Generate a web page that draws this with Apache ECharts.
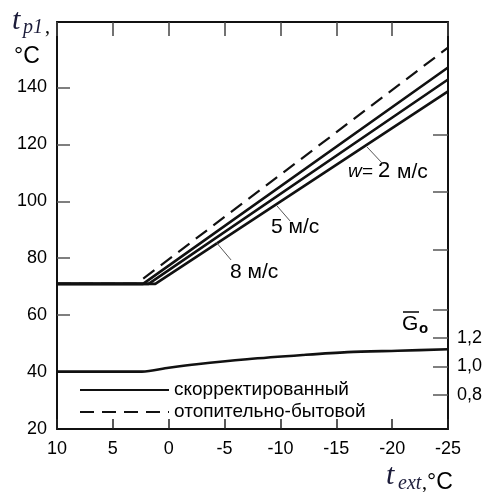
<!DOCTYPE html>
<html><head><meta charset="utf-8">
<script src="https://cdn.jsdelivr.net/npm/echarts@6/dist/echarts.min.js"></script>
<style>html,body{margin:0;padding:0;background:#fff}#c{width:490px;height:492px}</style>
</head><body><div id="c"></div>
<script>
// ---- data ----
const xTickValues = [-25, -20, -15, -10, -5, 0, 5, 10];
const yTickLabels = [20, 40, 60, 80, 100, 120, 140];
const goTickLabels = [0.8, 1.0, 1.2];
const goTickMarks = [0.8, 1.0, 1.2, 1.4, 1.82, 2.23, 2.63];
// t_p1 lines: [t_ext, t_p1]
const line_w2 = [[10, 71], [1.2, 71], [-25, 138.6]];
const line_w5 = [[10, 71], [1.8, 71], [-25, 142.8]];
const line_w8 = [[10, 71], [2.3, 71], [-25, 147]];
const line_heating = [[10, 71], [2.9, 71], [-25, 154]];
// relative flow G_o
const go_x = [10, 2.4, 0, -2.5, -7, -12, -16, -20.5, -25];
const go_y = [0.963, 0.963, 0.99, 1.015, 1.05, 1.08, 1.10, 1.11, 1.12];
// leader lines for labels [from, to]
const leader_w2 = [[-17.75, 119.1], [-19.18, 113.1]];
const leader_w5 = [[-9.69, 98.4], [-10.86, 93.1]];
const leader_w8 = [[-4.23, 85.7], [-5.58, 79.4]];
const seriesNames = ['скорректированный', 'отопительно-бытовой'];

const chart = echarts.init(document.getElementById('c'), null, {renderer: 'canvas'});
const FONT = '"Liberation Sans", Arial, sans-serif';
const SERIF = '"Liberation Serif", "DejaVu Serif", serif';
const black = '#111';

const goData = go_x.map((x, i) => [x, go_y[i]]);
const mkLeader = l => [{coord: l[0]}, {coord: l[1]}];

const option = {
  animation: false,
  backgroundColor: '#fff',
  color: [black],
  grid: {left: 57, right: 42, top: 22, bottom: 63, containLabel: false},
  xAxis: [
    {type: 'value', min: -25, max: 10, interval: 5, inverse: true, position: 'bottom',
     axisLine: {onZero: false, lineStyle: {color: black, width: 2}},
     axisTick: {inside: true, length: 10, lineStyle: {color: '#222', width: 1.5}},
     axisLabel: {color: '#000', fontSize: 18, fontFamily: FONT, margin: 11},
     splitLine: {show: false}},
    {type: 'value', min: -25, max: 10, interval: 5, inverse: true, position: 'top',
     axisLine: {onZero: false, lineStyle: {color: black, width: 2}},
     axisTick: {inside: true, length: 14, lineStyle: {color: '#444', width: 1.5}},
     axisLabel: {show: false}, splitLine: {show: false}}
  ],
  yAxis: [
    {type: 'value', min: 20, max: 163, interval: 20, position: 'left',
     axisLine: {onZero: false, lineStyle: {color: black, width: 2}},
     axisTick: {inside: true, length: 13, customValues: yTickLabels.slice(1), lineStyle: {color: '#555', width: 1.5}},
     axisLabel: {color: '#000', fontSize: 18, fontFamily: FONT, margin: 10, customValues: yTickLabels},
     splitLine: {show: false}},
    {type: 'value', min: 0.56, max: 3.42, position: 'right',
     axisLine: {onZero: false, lineStyle: {color: black, width: 2}},
     axisTick: {inside: true, length: 15, customValues: goTickMarks, lineStyle: {color: '#555', width: 1.5}},
     axisLabel: {color: '#000', fontSize: 18, fontFamily: FONT, margin: 9, customValues: goTickLabels,
       padding: [8, 0, 0, 0],
       formatter: v => v.toFixed(1).replace('.', ',')},
     splitLine: {show: false}}
  ],
  legend: {
    data: seriesNames, orient: 'vertical', left: 74, top: 375,
    itemWidth: 89, itemHeight: 20, itemGap: 2,
    itemStyle: {opacity: 0, borderWidth: 0},
    textStyle: {color: '#000', fontSize: 19, fontFamily: FONT, lineHeight: 20},
    selectedMode: false
  },
  series: [
    {name: seriesNames[0], type: 'line', data: line_w2, symbol: 'none', itemStyle: {color: black}, lineStyle: {color: black, width: 2.6},
     markLine: {silent: true, symbol: 'none', label: {show: false}, lineStyle: {color: '#555', width: 1, type: 'solid'},
       data: [mkLeader(leader_w2), mkLeader(leader_w5), mkLeader(leader_w8)]}},
    {name: seriesNames[0], type: 'line', data: line_w5, symbol: 'none', itemStyle: {color: black}, lineStyle: {color: black, width: 2.6}},
    {name: seriesNames[0], type: 'line', data: line_w8, symbol: 'none', itemStyle: {color: black}, lineStyle: {color: black, width: 2.6}},
    {name: seriesNames[1], type: 'line', data: line_heating, symbol: 'none', itemStyle: {color: black}, lineStyle: {color: black, width: 2.2, type: [14, 8]}},
    {name: 'G0', type: 'line', yAxisIndex: 1, data: goData, symbol: 'none', smooth: 0.3, itemStyle: {color: black}, lineStyle: {color: black, width: 2.6}}
  ],
  graphic: [
    {type: 'text', left: 12, top: 6, style: {text: 't', font: 'italic 30px ' + SERIF, fill: '#1c1c3a'}},
    {type: 'text', left: 23, top: 18, style: {text: 'p1', font: 'italic 20px ' + SERIF, fill: '#1c1c3a'}},
    {type: 'text', left: 45, top: 18, style: {text: ',', font: '20px ' + SERIF, fill: '#000'}},
    {type: 'text', left: 14, top: 45, style: {text: '°C', font: '23px ' + FONT, fill: '#000'}},
    {type: 'text', left: 386, top: 461, style: {text: 't', font: 'italic 30px ' + SERIF, fill: '#1c1c3a'}},
    {type: 'text', left: 398, top: 474, style: {text: 'ext', font: 'italic 20px ' + SERIF, fill: '#1c1c3a'}},
    {type: 'text', left: 422, top: 474, style: {text: ',', font: '20px ' + SERIF, fill: '#000'}},
    {type: 'text', left: 427, top: 471, style: {text: '°C', font: '23px ' + FONT, fill: '#000'}},
    {type: 'text', left: 402, top: 314, style: {text: 'G', font: '21px ' + FONT, fill: '#000'}},
    {type: 'line', shape: {x1: 403, y1: 312, x2: 419, y2: 312}, style: {stroke: '#000', lineWidth: 1.5}},
    {type: 'text', left: 419, top: 321, style: {text: 'o', font: 'bold 15px ' + FONT, fill: '#000'}},
    {type: 'text', left: 348, top: 162, style: {text: 'w', font: 'italic 19px ' + FONT, fill: '#000'}},
    {type: 'text', left: 362, top: 162, style: {text: '=', font: '19px ' + FONT, fill: '#000'}},
    {type: 'text', left: 378, top: 160, style: {text: '2', font: '22px ' + FONT, fill: '#000'}},
    {type: 'text', left: 397, top: 162, style: {text: 'м/с', font: '21px ' + FONT, fill: '#000'}},
    {type: 'text', left: 271, top: 217, style: {text: '5 м/с', font: '21px ' + FONT, fill: '#000'}},
    {type: 'text', left: 230, top: 262, style: {text: '8 м/с', font: '21px ' + FONT, fill: '#000'}}
  ]
};
chart.setOption(option);
</script></body></html>
